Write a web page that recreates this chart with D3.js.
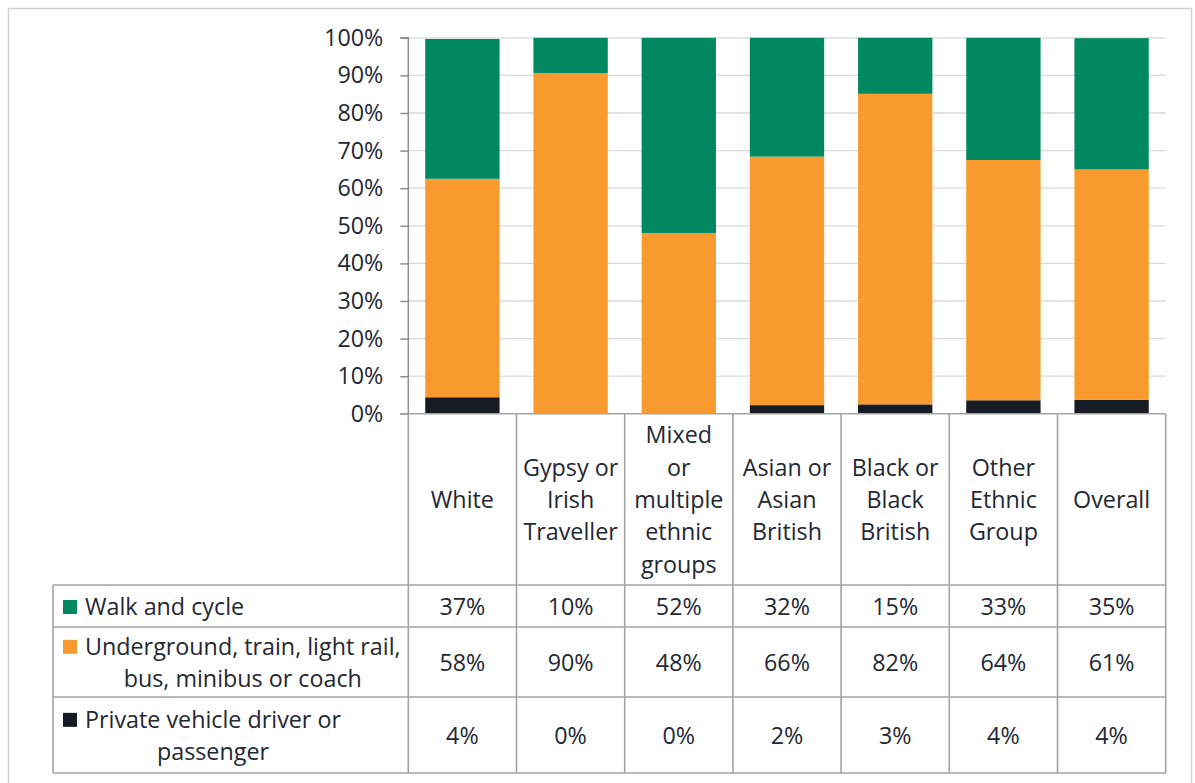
<!DOCTYPE html>
<html><head><meta charset="utf-8">
<script src="https://cdn.jsdelivr.net/npm/d3@7"></script>
<style>
html,body{margin:0;padding:0;background:#fff;}
svg{display:block;}
text{font-family:"Open Sans","Noto Sans",sans-serif;fill:#232833;}
</style></head>
<body>
<svg id="chart" width="1195" height="783"></svg>
<script>
const categories = [["White"],["Gypsy or","Irish","Traveller"],["Mixed","or","multiple","ethnic","groups"],["Asian or","Asian","British"],["Black or","Black","British"],["Other","Ethnic","Group"],["Overall"]];
const seriesNames = [["Walk and cycle"],["Underground, train, light rail,","bus, minibus or coach"],["Private vehicle driver or","passenger"]];
const walk = [37.2, 9.4, 51.9, 31.6, 14.9, 32.5, 34.9];
const transit = [58.1, 90.6, 48.1, 66.1, 82.6, 63.9, 61.3];
const privateVehicle = [4.4, 0.0, 0.0, 2.3, 2.5, 3.6, 3.7];
const walkLabels = ["37%","10%","52%","32%","15%","33%","35%"];
const transitLabels = ["58%","90%","48%","66%","82%","64%","61%"];
const privateLabels = ["4%","0%","0%","2%","3%","4%","4%"];
const yTicks = [0,10,20,30,40,50,60,70,80,90,100];
const colors = ["#008860","#F99A2F","#161B24"];

const svg = d3.select("#chart");
const plotL = 408.3, plotR = 1165.7, yTop = 37.8, yBot = 413.8;
const tableL = 53, catBot = 585;
const rowBounds = [[585,627],[627,697],[697,773]];
const FS = 23.3;
const FONT = "'Open Sans','Noto Sans',sans-serif";

// outer border
svg.append("rect").attr("x",8.5).attr("y",8.5).attr("width",1183).attr("height",790)
  .attr("fill","none").attr("stroke","#d0d0d0").attr("stroke-width",1.5);

const idx = d3.range(categories.length);
const x = d3.scaleBand().domain(idx).range([plotL, plotR]).paddingInner(0.313).paddingOuter(0.1565);
const y = d3.scaleLinear().domain([0,100]).range([yBot, yTop]);

// gridlines
svg.append("g").selectAll("line").data(yTicks.filter(d=>d>0)).join("line")
  .attr("x1",plotL).attr("x2",plotR).attr("y1",d=>y(d)).attr("y2",d=>y(d))
  .attr("stroke","#d9d9d9").attr("stroke-width",1.3);

// stacked bars
const rows = idx.map(i=>({i, priv:privateVehicle[i], transit:transit[i], walk:walk[i]}));
const stack = d3.stack().keys(["priv","transit","walk"])(rows);
const keyColor = {priv:colors[2], transit:colors[1], walk:colors[0]};
svg.append("g").selectAll("g").data(stack).join("g").attr("fill",s=>keyColor[s.key])
  .selectAll("rect").data(s=>s.filter(d=>d[1]-d[0]>0)).join("rect")
  .attr("x",d=>x(d.data.i)).attr("width",x.bandwidth())
  .attr("y",d=>y(d[1])).attr("height",d=>y(d[0])-y(d[1]));

// y axis
const yAxis = d3.axisLeft(y).tickValues(yTicks).tickFormat(d=>d+"%").tickSize(8).tickPadding(17);
const ya = svg.append("g").attr("transform",`translate(${plotL},0)`).call(yAxis);
ya.select(".domain").attr("stroke","#8f8f8f").attr("stroke-width",1.5).attr("d",`M-8,${yTop}H0V${yBot}`);
ya.selectAll(".tick line").attr("stroke","#8f8f8f").attr("stroke-width",1.5);
ya.selectAll(".tick text").style("font-family",FONT).style("font-size",FS+"px").attr("fill","#232833");

// table lines
const tg = svg.append("g").attr("stroke","#a3a3a3").attr("stroke-width",1.6).attr("fill","none");
const colEdges = idx.map(i=>x.step()*i + plotL).concat([plotR]);
colEdges.forEach(cx=>tg.append("line").attr("x1",cx).attr("x2",cx).attr("y1",yBot).attr("y2",rowBounds[2][1]));
tg.append("line").attr("x1",plotL-8).attr("x2",plotR).attr("y1",yBot).attr("y2",yBot);
tg.append("line").attr("x1",tableL).attr("x2",tableL).attr("y1",catBot).attr("y2",rowBounds[2][1]);
rowBounds.forEach(r=>{
  tg.append("line").attr("x1",tableL).attr("x2",plotR).attr("y1",r[0]).attr("y2",r[0]);
});
tg.append("line").attr("x1",tableL).attr("x2",plotR).attr("y1",rowBounds[2][1]).attr("y2",rowBounds[2][1]);

// category labels
const LH = 32.3;
const catMid = (yBot+catBot)/2 + 0.5;
categories.forEach((lines,i)=>{
  const cx = x(i)+x.bandwidth()/2;
  const t = svg.append("text").attr("text-anchor","middle").style("font-size",FS+"px");
  lines.forEach((ln,k)=>{
    t.append("tspan").attr("x",cx).attr("y",catMid + (k-(lines.length-1)/2)*LH).attr("dy","0.35em").text(ln);
  });
});

// data rows
const labelSets = [walkLabels, transitLabels, privateLabels];
labelSets.forEach((labs,r)=>{
  const cyMid = (rowBounds[r][0]+rowBounds[r][1])/2 + 1;
  svg.append("g").selectAll("text").data(labs).join("text")
    .attr("text-anchor","middle").style("font-size",FS+"px")
    .attr("x",(d,i)=>x(i)+x.bandwidth()/2).attr("y",cyMid).attr("dy","0.35em").text(d=>d);
});

// legend cells
seriesNames.forEach((lines,r)=>{
  const cyMid = (rowBounds[r][0]+rowBounds[r][1])/2 + 1;
  const firstY = cyMid - (lines.length-1)/2*LH;
  svg.append("rect").attr("x",63).attr("y",firstY-7).attr("width",14).attr("height",14).attr("fill",colors[r]);
  const textX = 85;
  const t0 = svg.append("text").attr("x",textX).attr("y",firstY).attr("dy","0.35em").style("font-size",FS+"px").text(lines[0]);
  const w0 = t0.node().getComputedTextLength();
  lines.slice(1).forEach((ln,k)=>{
    svg.append("text").attr("text-anchor","middle").attr("x",textX + w0/2).attr("y",firstY+(k+1)*LH)
      .attr("dy","0.35em").style("font-size",FS+"px").text(ln);
  });
});
</script>
</body></html>
